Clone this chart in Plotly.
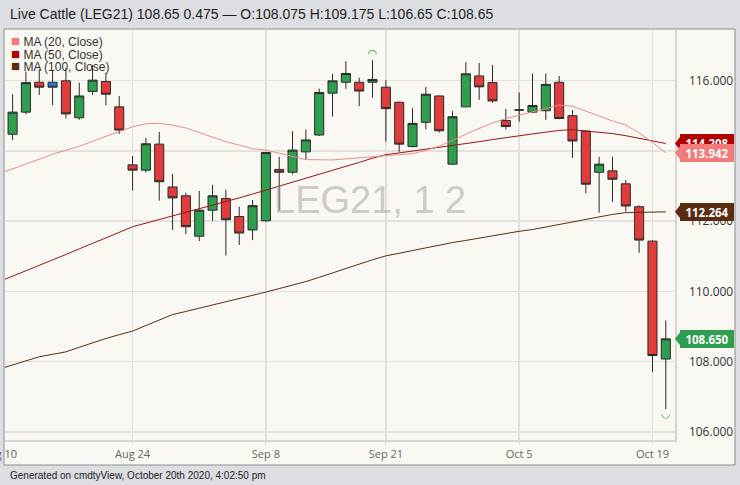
import plotly.graph_objects as go

# ---------------- data ----------------
instrument = "Live Cattle"
symbol = "LEG21"
watermark_text = "LEG21, 1 2"
footer_text = "Generated on cmdtyView, October 20th 2020, 4:02:50 pm"

dates = [
    "2020-08-11", "2020-08-12", "2020-08-13", "2020-08-14",
    "2020-08-17", "2020-08-18", "2020-08-19", "2020-08-20", "2020-08-21",
    "2020-08-24", "2020-08-25", "2020-08-26", "2020-08-27", "2020-08-28",
    "2020-08-31", "2020-09-01", "2020-09-02", "2020-09-03", "2020-09-04",
    "2020-09-08", "2020-09-09", "2020-09-10", "2020-09-11",
    "2020-09-14", "2020-09-15", "2020-09-16", "2020-09-17", "2020-09-18",
    "2020-09-21", "2020-09-22", "2020-09-23", "2020-09-24", "2020-09-25",
    "2020-09-28", "2020-09-29", "2020-09-30", "2020-10-01", "2020-10-02",
    "2020-10-05", "2020-10-06", "2020-10-07", "2020-10-08", "2020-10-09",
    "2020-10-12", "2020-10-13", "2020-10-14", "2020-10-15", "2020-10-16",
    "2020-10-19", "2020-10-20",
]
opens = [
    114.47, 115.10, 115.95, 115.95,
    115.99, 114.94, 115.69, 115.97, 115.25,
    113.60, 113.45, 114.19, 112.97, 112.72,
    111.57, 112.31, 112.64, 112.13, 111.75,
    112.01, 113.47, 113.39, 113.97,
    114.45, 115.64, 115.95, 115.95, 115.95,
    115.81, 115.38, 114.12, 114.81, 115.56,
    113.62, 115.25, 116.13, 115.94, 114.86,
    115.16, 115.10, 115.14, 115.95, 115.00,
    114.56, 113.39, 113.43, 113.06, 112.41,
    111.43, 108.075,
]
highs = [
    115.61, 116.25, 116.32, 116.28,
    116.36, 115.94, 116.44, 116.22, 115.56,
    113.85, 114.37, 114.54, 113.34, 112.81,
    112.86, 113.03, 112.90, 112.41, 112.60,
    113.97, 113.83, 114.56, 114.61,
    115.77, 116.19, 116.55, 116.08, 116.58,
    116.01, 115.40, 115.21, 115.82, 115.58,
    115.13, 116.52, 116.50, 116.44, 115.19,
    115.66, 116.20, 116.20, 116.13, 115.16,
    114.58, 113.83, 113.83, 113.17, 112.45,
    111.45, 109.175,
]
lows = [
    114.31, 115.04, 115.59, 115.30,
    114.92, 114.88, 115.59, 115.30, 114.48,
    112.87, 113.38, 112.58, 111.75, 111.63,
    111.43, 112.01, 111.02, 111.32, 111.46,
    111.98, 112.30, 113.33, 113.76,
    114.42, 114.97, 115.76, 115.27, 115.51,
    114.26, 113.97, 114.10, 114.61, 114.52,
    113.60, 115.24, 115.45, 115.37, 114.61,
    114.83, 115.07, 114.88, 114.90, 113.80,
    112.79, 112.24, 112.55, 112.27, 111.10,
    107.70, 106.65,
]
closes = [
    115.10, 115.94, 115.81, 115.81,
    115.05, 115.56, 116.01, 115.61, 114.59,
    113.45, 114.20, 113.12, 112.66, 111.84,
    112.31, 112.72, 112.04, 111.66, 112.44,
    113.95, 113.39, 114.02, 114.31,
    115.66, 115.99, 116.20, 115.70, 116.03,
    115.20, 114.19, 114.78, 115.61, 114.57,
    114.97, 116.19, 115.82, 115.42, 114.69,
    115.16, 115.29, 115.89, 114.92, 114.28,
    113.05, 113.62, 113.19, 112.43, 111.46,
    108.175, 108.65,
]

# moving averages, first point is Aug 10 (just off the left edge)
ma_dates = ["2020-08-10"] + dates
ma20 = [
    113.35, 113.49, 113.63, 113.77, 113.90, 114.02, 114.13, 114.27, 114.42, 114.55,
    114.68, 114.77, 114.78, 114.73, 114.65, 114.52, 114.38, 114.26, 114.16, 114.06,
    114.02, 113.94, 113.84, 113.75, 113.74, 113.74, 113.77, 113.80, 113.85, 113.88,
    113.90, 113.92, 114.01, 114.13, 114.30, 114.48, 114.64, 114.79, 114.92, 115.01,
    115.11, 115.20, 115.30, 115.27, 115.13, 114.98, 114.85, 114.73, 114.51, 114.24,
    113.942,
]
ma50 = [
    110.28, 110.43, 110.59, 110.75, 110.89, 111.05, 111.21, 111.36, 111.52, 111.68,
    111.84, 111.94, 112.04, 112.15, 112.25, 112.35, 112.46, 112.56, 112.66, 112.77,
    112.88, 112.99, 113.11, 113.22, 113.33, 113.45, 113.56, 113.67, 113.79, 113.89,
    113.94, 113.99, 114.05, 114.10, 114.15, 114.20, 114.26, 114.32, 114.38, 114.43,
    114.48, 114.53, 114.58, 114.60, 114.57, 114.53, 114.49, 114.43, 114.35, 114.27,
    114.208,
]
ma100 = [
    107.79, 107.91, 108.02, 108.14, 108.21, 108.28, 108.41, 108.54, 108.66, 108.77,
    108.87, 109.03, 109.18, 109.34, 109.43, 109.52, 109.60, 109.70, 109.79, 109.89,
    109.98, 110.08, 110.17, 110.28, 110.40, 110.53, 110.66, 110.78, 110.90, 111.01,
    111.09, 111.17, 111.25, 111.31, 111.39, 111.45, 111.52, 111.59, 111.66, 111.71,
    111.76, 111.83, 111.90, 111.98, 112.06, 112.12, 112.19, 112.24, 112.25, 112.26,
    112.264,
]
ma_names = ["MA (20, Close)", "MA (50, Close)", "MA (100, Close)"]

tick_dates = ["2020-08-24", "2020-09-08", "2020-09-21", "2020-10-05", "2020-10-19"]
tick_labels = ["Aug 24", "Sep 8", "Sep 21", "Oct 5", "Oct 19"]
edge_tick_label = "Aug 10"
y_ticks = [106, 108, 110, 112, 114, 116]
holidays = ["2020-09-07"]

# ---------------- style ----------------
UP = "#2f9e4f"
DOWN = "#e13c3c"
UNCH = "#2d7fd8"
FLAT = "#222222"
OUTLINE = "#2a2a2a"
MA_COLORS = ["#f27c7c", "#b20000", "#5b2c11"]
MA_LINE_COLORS = ["#ef8a8a", "#9a1414", "#5b2c11"]
CREAM = "#faf8f3"
GREY = "#dcdee1"
GRID = "#e4e1dc"
AXIS_FONT = "Open Sans"
HEAD_FONT = "Liberation Sans, Arial"


def fmt(v):
    s = f"{v:.3f}".rstrip("0").rstrip(".")
    return s


fig = go.Figure()

# moving averages (behind candles)
for vals, col in zip([ma100, ma50, ma20], [MA_LINE_COLORS[2], MA_LINE_COLORS[1], MA_LINE_COLORS[0]]):
    fig.add_trace(go.Scatter(x=ma_dates, y=vals, mode="lines",
                             line=dict(color=col, width=1),
                             showlegend=False, hoverinfo="skip"))

# classify candles
groups = {"main": [], "unch": [], "flat": []}
for i in range(len(dates)):
    if closes[i] == opens[i]:
        groups["flat"].append(i)
    elif i > 0 and closes[i] == closes[i - 1]:
        groups["unch"].append(i)
    else:
        groups["main"].append(i)

specs = {
    "main": (UP, DOWN),
    "unch": (UNCH, UNCH),
    "flat": (FLAT, FLAT),
}
for key, idx in groups.items():
    if not idx:
        continue
    upc, dnc = specs[key]
    line_col = FLAT if key == "flat" else OUTLINE
    fig.add_trace(go.Candlestick(
        x=[dates[i] for i in idx],
        open=[opens[i] for i in idx],
        high=[highs[i] for i in idx],
        low=[lows[i] for i in idx],
        close=[closes[i] for i in idx],
        increasing=dict(fillcolor=upc, line=dict(color=line_col, width=1)),
        decreasing=dict(fillcolor=dnc, line=dict(color=line_col, width=1)),
        showlegend=False, hoverinfo="skip",
    ))

# period high / low markers
ih = max(range(len(highs)), key=lambda k: highs[k])
il = min(range(len(lows)), key=lambda k: lows[k])
fig.add_trace(go.Scatter(x=[dates[ih]], y=[highs[ih]], mode="text", text=["◠"],
                         textposition="top center",
                         textfont=dict(color=UP, size=11, family="DejaVu Sans"),
                         showlegend=False, hoverinfo="skip", cliponaxis=False))
fig.add_trace(go.Scatter(x=[dates[il]], y=[lows[il]], mode="text", text=["◡"],
                         textposition="bottom center",
                         textfont=dict(color=UP, size=11, family="DejaVu Sans"),
                         showlegend=False, hoverinfo="skip", cliponaxis=False))

# ---------------- layout ----------------
W, H = 740, 485
L, R, T, B = 5, 65, 30, 45
pw, ph = W - L - R, H - T - B


def px_x(px):
    return (px - L) / pw


def px_y(py):
    return (H - B - py) / ph


annotations = []
shapes = []

# panel
shapes.append(dict(type="rect", xref="paper", yref="paper",
                   x0=px_x(4), x1=px_x(735), y0=px_y(465), y1=px_y(29),
                   fillcolor=CREAM, line=dict(color="#8e8e8e", width=1), layer="below"))

# legend
for k, (nm, col) in enumerate(zip(ma_names, MA_COLORS)):
    annotations.append(dict(
        xref="paper", yref="paper", x=px_x(9), y=px_y(40.5 + 12.5 * k),
        xanchor="left", yanchor="middle", showarrow=False,
        text=f'<span style="color:{col};font-size:15px">■</span> {nm}',
        font=dict(family=HEAD_FONT, size=12, color="#333333"),
    ))

# watermark
annotations.append(dict(xref="paper", yref="paper", x=px_x(370), y=px_y(200),
                        text=watermark_text, showarrow=False,
                        font=dict(family=HEAD_FONT, size=38, color="rgba(160,158,155,0.5)")))

# footer
annotations.append(dict(xref="paper", yref="paper", x=px_x(8), y=px_y(475),
                        xanchor="left", yanchor="middle", text=footer_text, showarrow=False,
                        font=dict(family=HEAD_FONT, size=10, color="#222222")))

# partially visible first date label
annotations.append(dict(xref="paper", yref="paper", x=px_x(-0.7), y=px_y(453),
                        xanchor="center", yanchor="middle", text=edge_tick_label,
                        showarrow=False, font=dict(family=AXIS_FONT, size=11, color="#666666")))

# price tags on right axis
tags = [
    (ma50[-1], MA_COLORS[1]),
    (ma20[-1], MA_COLORS[0]),
    (ma100[-1], MA_COLORS[2]),
    (closes[-1], UP),
]
for v, col in tags:
    shapes.append(dict(type="path", xref="paper", yref="y",
                       xsizemode="pixel", ysizemode="pixel", xanchor=1, yanchor=v,
                       path="M0,0 L7,9 L7,-9 Z", fillcolor=col, line=dict(width=0),
                       layer="above"))
    annotations.append(dict(xref="paper", yref="y", x=1, y=v, xanchor="left", yanchor="middle",
                            xshift=5, text=f"{v:.3f}", showarrow=False,
                            bgcolor=col, bordercolor=col, borderwidth=1, borderpad=1,
                            width=50, height=14,
                            font=dict(family=AXIS_FONT, size=11.5, color="white", weight="bold")))

chg = closes[-1] - closes[-2]
title = (f"{instrument} ({symbol}) {fmt(closes[-1])} {fmt(chg)} — "
         f"O:{fmt(opens[-1])} H:{fmt(highs[-1])} L:{fmt(lows[-1])} C:{fmt(closes[-1])}")

fig.update_layout(
    width=W, height=H,
    margin=dict(l=L, r=R, t=T, b=B),
    paper_bgcolor=GREY, plot_bgcolor=CREAM,
    title=dict(text=title, x=10 / W, xanchor="left", xref="container",
               y=1 - 14 / H, yanchor="middle", yref="container",
               font=dict(family=HEAD_FONT, size=14, color="#1e1e1e")),
    showlegend=False,
    annotations=annotations, shapes=shapes,
    boxgap=0.32, boxgroupgap=0,
    xaxis=dict(
        type="date",
        range=["2020-08-10 10:19:12", "2020-10-20 16:33:36"],
        rangebreaks=[dict(bounds=["sat", "mon"]), dict(values=holidays)],
        rangeslider=dict(visible=False),
        tickvals=tick_dates, ticktext=tick_labels,
        showgrid=True, gridcolor=GRID, gridwidth=1.5,
        showline=True, linecolor="#d8d5d0", linewidth=1.5,
        ticks="outside", ticklen=3, tickcolor=GRID,
        tickfont=dict(family=AXIS_FONT, size=11, color="#666666"),
        zeroline=False, fixedrange=True,
    ),
    yaxis=dict(
        side="right",
        range=[105.772, 117.437],
        tickvals=y_ticks, tickformat=".3f",
        showgrid=True, gridcolor=GRID, gridwidth=1.5,
        showline=True, linecolor="#d8d5d0", linewidth=1.5,
        ticks="", ticklabelstandoff=10,
        tickfont=dict(family=AXIS_FONT, size=12, color="#333333"),
        zeroline=False, fixedrange=True,
    ),
)

fig.write_html("out.html",
               config={"displayModeBar": False, "staticPlot": True},
               post_script="document.body.style.margin='0';document.body.style.overflow='hidden';")
